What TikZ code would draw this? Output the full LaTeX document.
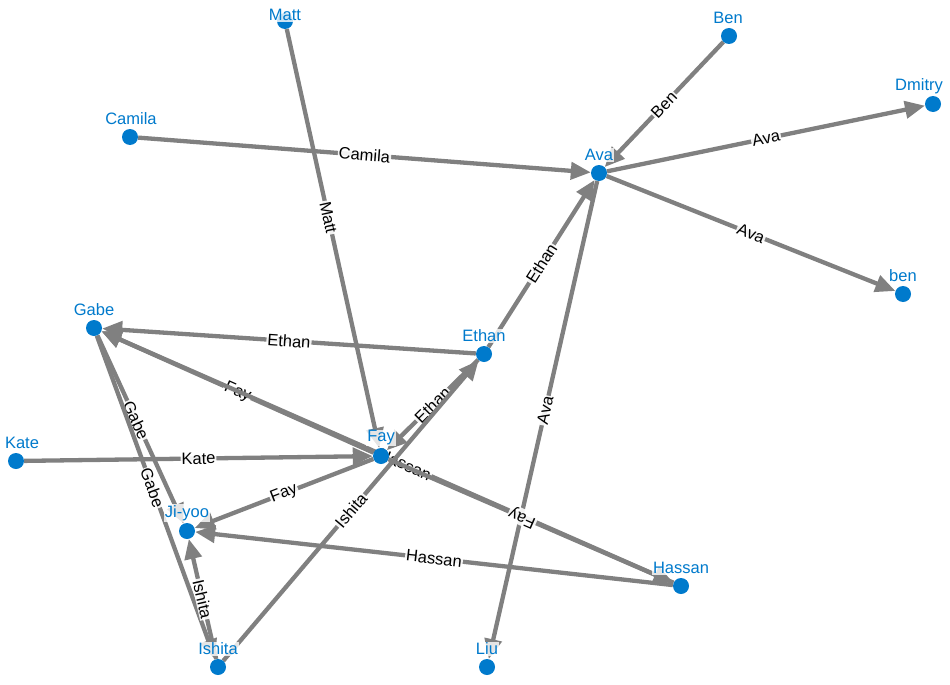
\documentclass[tikz,border=0pt]{standalone}
\usepackage{fontspec}
\setmainfont{Liberation Sans}
\usetikzlibrary{arrows.meta}
\definecolor{dotblue}{RGB}{0,122,204}
\definecolor{edgegray}{RGB}{128,128,128}
\pgfdeclarelayer{front}
\pgfsetlayers{main,front}
\begin{document}
\begin{tikzpicture}[x=1pt,y=-1pt,
  dot/.style={circle,fill=dotblue,minimum size=16pt,inner sep=0pt},
  nlabel/.style={text=dotblue,fill=white,fill opacity=0.8,text opacity=1,inner sep=1pt,font=\fontsize{16.5}{18}\selectfont},
  edge/.style={draw=edgegray,line width=4.3pt,-{Triangle[length=20pt,width=17pt]}},
  elabel/.style={midway,sloped,fill=white,fill opacity=0.9,text opacity=1,inner sep=1pt,font=\fontsize{16.5}{18}\selectfont,text=black}]
\useasboundingbox (0,0) rectangle (950,685);
\begin{pgfonlayer}{front}
  \node[dot] (Matt) at (285,21) {};
  \node[dot] (Ben) at (729,36) {};
  \node[dot] (Dmitry) at (933,104) {};
  \node[dot] (Camila) at (130,137) {};
  \node[dot] (Ava) at (599,173) {};
  \node[dot] (ben) at (903,294) {};
  \node[dot] (Gabe) at (94,328) {};
  \node[dot] (Ethan) at (484,354) {};
  \node[dot] (Kate) at (16,461) {};
  \node[dot] (Fay) at (381,456) {};
  \node[dot] (Jiyoo) at (187,531) {};
  \node[dot] (Hassan) at (681,586) {};
  \node[dot] (Ishita) at (218,667) {};
  \node[dot] (Liu) at (487,667) {};
  \node[nlabel] (LMatt) at (285,15) {Matt};
  \node[nlabel] (LBen) at (728,18) {Ben};
  \node[nlabel] (LDmitry) at (919,86) {Dmitry};
  \node[nlabel] (LCamila) at (131,119) {Camila};
  \node[nlabel] (LAva) at (599,155) {Ava};
  \node[nlabel] (Lben) at (903,276) {ben};
  \node[nlabel] (LGabe) at (94,310) {Gabe};
  \node[nlabel] (LEthan) at (484,336) {Ethan};
  \node[nlabel] (LKate) at (22,443) {Kate};
  \node[nlabel] (LFay) at (381,438) {Fay};
  \node[nlabel] (LJiyoo) at (187,513) {Ji-yoo};
  \node[nlabel] (LHassan) at (681,568) {Hassan};
  \node[nlabel] (LIshita) at (218,649) {Ishita};
  \node[nlabel] (LLiu) at (487,649) {Liu};
\end{pgfonlayer}
\draw[edge] (Matt) -- node[elabel,pos=0.45] {Matt} (Fay);
\draw[edge] (Ben) -- node[elabel] {Ben} (Ava);
\draw[edge] (Ava) -- node[elabel] {Ava} (Dmitry);
\draw[edge] (Camila) -- node[elabel] {Camila} (Ava);
\draw[edge] (Ava) -- node[elabel] {Ava} (ben);
\draw[edge] (Ethan) -- node[elabel] {Ethan} (Ava);
\draw[edge] (Ava) -- node[elabel,pos=0.48] {Ava} (Liu);
\draw[edge] (Ethan) -- node[elabel] {Ethan} (Gabe);
\draw[edge] (Fay) -- node[elabel] {Fay} (Gabe);
\draw[edge] (Hassan) -- node[elabel,pos=0.47] {Hassan} (Gabe);
\draw[edge] (Kate) -- node[elabel] {Kate} (Fay);
\draw[edge] (Ethan) -- node[elabel] {Ethan} (Fay);
\draw[edge] (Fay) -- node[elabel] {Fay} (Jiyoo);
\draw[edge] (Hassan) -- node[elabel] {Hassan} (Jiyoo);
\draw[edge] (Fay) -- node[elabel,pos=0.47,rotate=180] {Fay} (Hassan);
\draw[edge] (Gabe) -- node[elabel,pos=0.45] {Gabe} (Jiyoo);
\draw[edge] (Gabe) -- node[elabel,pos=0.47] {Gabe} (Ishita);
\draw[edge] (Ishita) -- node[elabel] {Ishita} (Jiyoo);
\draw[edge] (Ishita) -- node[elabel] {Ishita} (Ethan);
\end{tikzpicture}
\end{document}
